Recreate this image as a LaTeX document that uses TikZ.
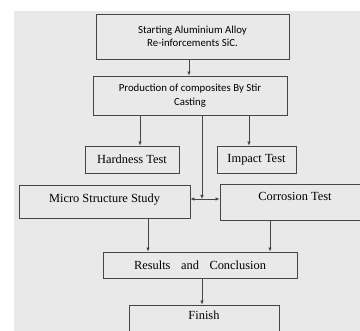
\documentclass[tikz,border=0pt]{standalone}
\usepackage{fontspec}
\setmainfont{Liberation Serif}
\newfontfamily\calib{Carlito}
\usetikzlibrary{arrows.meta, calc}

\definecolor{bggray}{RGB}{233,233,233}
\definecolor{ln}{RGB}{70,70,70}

\tikzset{
  stepbox/.style={draw=ln, line width=0.9pt, inner sep=0pt, align=center},
  flow/.style={draw=ln, line width=0.9pt, -{Latex[length=4pt,width=3.6pt]}},
  flowtwo/.style={draw=ln, line width=0.9pt, {Latex[length=4pt,width=3.6pt]}-{Latex[length=4pt,width=3.6pt]}}
}

\begin{document}
\begin{tikzpicture}[x=1pt, y=-1pt, font=\fontsize{12.4}{14}\selectfont]
    \useasboundingbox (0,0) rectangle (360,331);
    \clip (0,0) rectangle (360,331);
    \fill[bggray] (14,11) rectangle (360,331);

    % upper boxes
    \node[stepbox, minimum width=193pt, minimum height=45pt, font=\calib\fontsize{10.8}{13.5}\selectfont] (start) at (192.5,36.5) {Starting Aluminium Alloy\\Re-inforcements SiC.};
    \node[stepbox, minimum width=194pt, minimum height=39pt, font=\calib\fontsize{10.8}{13.5}\selectfont] (prod) at (190,95.5) {Production of composites By Stir\\Casting};

    % tests
    \node[stepbox, minimum width=94pt, minimum height=27pt] (hard) at (132,159.5) {Hardness Test};
    \node[stepbox, minimum width=79pt, minimum height=27pt] (impact) at (256.5,159.5) {Impact Test};
    \node[stepbox, minimum width=171pt, minimum height=33pt, text depth=7pt] (micro) at (104.5,201.5) {Micro Structure Study};
    \node[stepbox, minimum width=150pt, minimum height=36pt, text depth=11pt] (corr) at (295,202) {Corrosion Test};
    \coordinate (j) at (202,199);

    % end
    \node[stepbox, minimum width=194pt, minimum height=26pt] (res) at (200,265) {Results\hspace{0.6em} and\hspace{0.6em} Conclusion};
    \node[stepbox, minimum width=150pt, minimum height=40pt, text depth=20pt] (fin) at (204,325) {Finish};

    \draw[flow] ([xshift=-3.5pt]start.south) -- ([xshift=-3.5pt]start.south |- prod.north);
    \draw[flow] ([xshift=8pt]hard.north |- prod.south) -- ([xshift=8pt]hard.north);
    \draw[flow] ([xshift=-7.5pt]impact.north |- prod.south) -- ([xshift=-7.5pt]impact.north);
    \draw[flow] (j |- prod.south) -- (j);
    \draw[flowtwo] (micro.east |- j) -- (corr.west |- j);
    \draw[flow] ([xshift=43.5pt]micro.south) -- ([xshift=43.5pt]micro.south |- res.north);
    \draw[flow] ([xshift=-25pt]corr.south) -- ([xshift=-25pt]corr.south |- res.north);
    \draw[flow] ([xshift=-2pt]fin.north |- res.south) -- ([xshift=-2pt]fin.north);
\end{tikzpicture}
\end{document}
